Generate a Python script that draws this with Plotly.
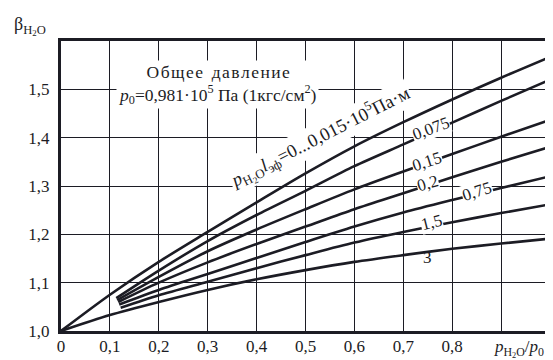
import plotly.graph_objects as go

# ---- data ----
x_top = [0, 0.1, 0.2, 0.3, 0.4, 0.5, 0.6, 0.7, 0.8, 0.9, 1.0]
y_top = [1.0, 1.075, 1.143, 1.205, 1.266, 1.326, 1.382, 1.432, 1.479, 1.524, 1.567]

x_075 = [0.113, 0.2, 0.3, 0.4, 0.5, 0.6, 0.7, 0.8, 0.9, 1.0]
y_075 = [1.068, 1.125, 1.186, 1.240, 1.290, 1.341, 1.386, 1.431, 1.476, 1.520]

x_15 = [0.115, 0.2, 0.3, 0.4, 0.5, 0.6, 0.7, 0.8, 0.9, 1.0]
y_15 = [1.064, 1.112, 1.165, 1.210, 1.252, 1.293, 1.330, 1.366, 1.402, 1.437]

x_2 = [0.117, 0.2, 0.3, 0.4, 0.5, 0.6, 0.7, 0.8, 0.9, 1.0]
y_2 = [1.060, 1.100, 1.142, 1.180, 1.216, 1.252, 1.285, 1.318, 1.350, 1.381]

x_75 = [0.119, 0.2, 0.3, 0.4, 0.5, 0.6, 0.7, 0.8, 0.9, 1.0]
y_75 = [1.055, 1.085, 1.118, 1.151, 1.184, 1.216, 1.245, 1.271, 1.296, 1.320]

x_1_5 = [0.122, 0.2, 0.3, 0.4, 0.5, 0.6, 0.7, 0.8, 0.9, 1.0]
y_1_5 = [1.048, 1.074, 1.102, 1.130, 1.157, 1.183, 1.205, 1.225, 1.244, 1.262]

x_3 = [0, 0.1, 0.2, 0.3, 0.4, 0.5, 0.6, 0.7, 0.8, 0.9, 1.0]
y_3 = [1.0, 1.033, 1.060, 1.085, 1.107, 1.126, 1.143, 1.157, 1.170, 1.181, 1.191]

series = [(x_top, y_top), (x_075, y_075), (x_15, y_15), (x_2, y_2),
          (x_75, y_75), (x_1_5, y_1_5), (x_3, y_3)]

x_tickvals = [0, 0.1, 0.2, 0.3, 0.4, 0.5, 0.6, 0.7, 0.8, 0.9]
x_ticktext = ["0", "0,1", "0,2", "0,3", "0,4", "0,5", "0,6", "0,7", "0,8", ""]
y_tickvals = [1.0, 1.1, 1.2, 1.3, 1.4, 1.5]
y_ticktext = ["1,0", "1,1", "1,2", "1,3", "1,4", "1,5"]

# curve labels: text, x, y, angle
curve_labels = [
    ("0,075", 0.757, 1.418, -20),
    ("0,15", 0.749, 1.351, -18),
    ("0,2", 0.749, 1.306, -16),
    ("0,75", 0.850, 1.289, -18),
    ("1,5", 0.757, 1.225, -14),
]

INK = "#1c1c24"
FONT = "Liberation Serif"

fig = go.Figure()
for xs, ys in series:
    fig.add_trace(go.Scatter(x=xs, y=ys, mode="lines",
                             line=dict(color=INK, width=2.6, shape="spline", smoothing=0.8),
                             showlegend=False, hoverinfo="skip"))

ann = []
for t, xv, yv, ang in curve_labels:
    ann.append(dict(x=xv, y=yv, xref="x", yref="y", text=t, showarrow=False,
                    textangle=ang, bgcolor="white", borderpad=0,
                    font=dict(family=FONT, size=17, color=INK)))
ann.append(dict(x=0.75, y=1.153, xref="x", yref="y", text="3", showarrow=False,
                font=dict(family=FONT, size=17, color=INK)))
# long rotated label
ann.append(dict(x=0.53, y=1.402, xref="x", yref="y",
                text="<i>p</i><sub>H<sub>2</sub>O</sub><i>l</i><sub>эф</sub>=0...0,015·10<sup>5</sup>Па·м",
                showarrow=False, textangle=-27, bgcolor="white", borderpad=0,
                font=dict(family=FONT, size=18.5, color=INK)))
# text box
sp = "\u200a"
word1 = sp.join("Общее")
word2 = sp.join("давление")
ann.append(dict(x=0.321, y=1.511, xref="x", yref="y",
                text=word1 + "  " + word2 + "<br><i>p</i><sub>0</sub>=0,981·10<sup>5</sup> Па (1кгс/см<sup>2</sup>)",
                showarrow=False, bgcolor="white", borderpad=1, align="center",
                font=dict(family=FONT, size=17.5, color=INK)))
# axis titles
ann.append(dict(x=-0.1, y=1.05, xref="paper", yref="paper", xanchor="left", yanchor="middle",
                text="β<sub>H<sub>2</sub>O</sub>", showarrow=False,
                font=dict(family=FONT, size=18, color=INK)))
ann.append(dict(x=0.936, y=-0.06, xref="paper", yref="paper", xanchor="center", yanchor="middle",
                text="<i>p</i><sub>H<sub>2</sub>O</sub>/<i>p</i><sub>0</sub>", showarrow=False,
                font=dict(family=FONT, size=17, color=INK)))

fig.update_layout(
    width=553, height=360,
    margin=dict(l=53, r=8, t=33, b=37),
    paper_bgcolor="white", plot_bgcolor="white",
    font=dict(family=FONT, size=17, color=INK),
    annotations=ann,
    xaxis=dict(range=[0, 1.0], tickvals=x_tickvals, ticktext=x_ticktext,
               showgrid=True, gridcolor=INK, gridwidth=1.2, zeroline=False,
               showline=True, linecolor=INK, linewidth=3, mirror=True,
               ticks="", ticklen=0, ticklabelstandoff=-2,
               tickfont=dict(family=FONT, size=17, color=INK)),
    yaxis=dict(range=[1.0, 1.6], tickvals=y_tickvals, ticktext=y_ticktext,
               showgrid=True, gridcolor=INK, gridwidth=1.2, zeroline=False,
               showline=True, linecolor=INK, linewidth=3, mirror=True,
               ticks="", ticklen=0, ticklabelstandoff=5,
               tickfont=dict(family=FONT, size=17, color=INK)),
)

fig.write_html("out.html")
